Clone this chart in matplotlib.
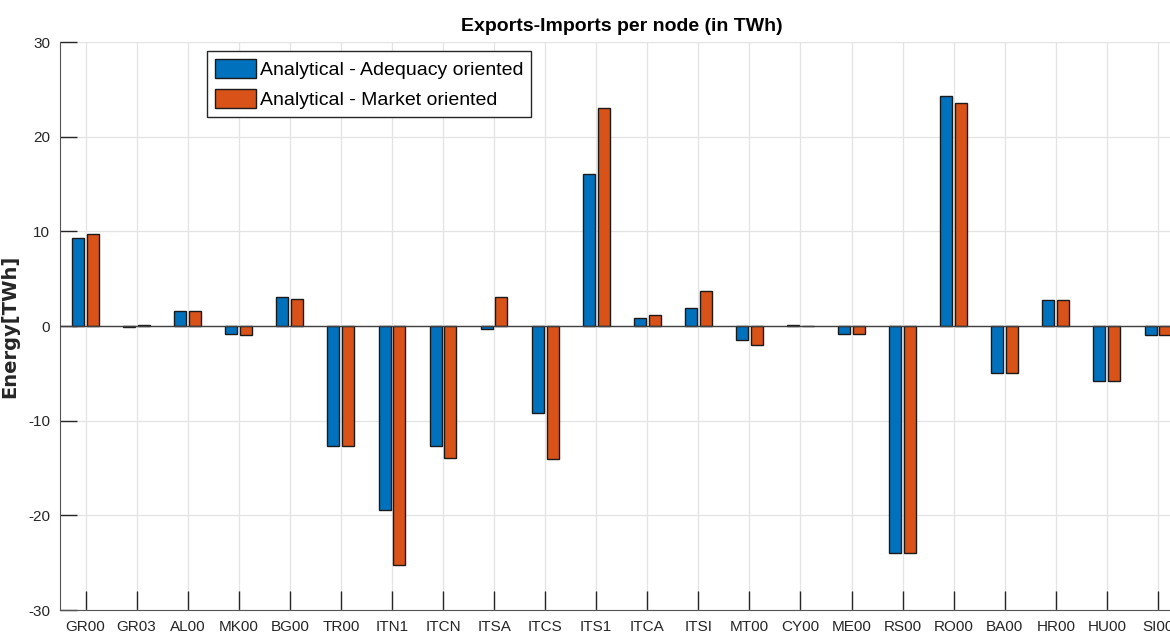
import numpy as np
import matplotlib.pyplot as plt

nodes = ["GR00", "GR03", "AL00", "MK00", "BG00", "TR00", "ITN1", "ITCN", "ITSA", "ITCS", "ITS1",
         "ITCA", "ITSI", "MT00", "CY00", "ME00", "RS00", "RO00", "BA00", "HR00", "HU00", "SI00"]
adequacy = [9.26, -0.1, 1.62, -0.88, 3.06, -12.67, -19.47, -12.67, -0.3, -9.2, 16.05,
            0.81, 1.9, -1.48, 0.15, -0.81, -23.93, 24.25, -4.96, 2.75, -5.8, -0.95]
market = [9.68, 0.1, 1.6, -0.9, 2.89, -12.67, -25.24, -13.94, 3.1, -14.04, 23.0,
          1.13, 3.66, -2.04, 0.05, -0.8, -23.93, 23.58, -4.96, 2.75, -5.8, -0.95]

plt.rcParams['axes.unicode_minus'] = False
sans = ['Liberation Sans', 'DejaVu Sans']
dark = '#262626'

fig = plt.figure(figsize=(11.7, 6.37), dpi=100)
# right edge of the axes runs past the picture, as in the reference
ax = fig.add_axes([60/1170, 1 - 610/637, 1123.5/1170, 568/637])

x = np.arange(1, len(nodes) + 1)
w = 0.235
ax.bar(x - 0.145, adequacy, w, color='#0072BD', edgecolor='#1a1a1a', linewidth=1,
       label="Analytical - Adequacy oriented", zorder=3)
ax.bar(x + 0.145, market, w, color='#D95319', edgecolor='#1a1a1a', linewidth=1,
       label="Analytical - Market oriented", zorder=3)
ax.axhline(0, color='#404040', linewidth=1, zorder=4)

ax.set_xlim(0.5, 22.5)
ax.set_ylim(-30, 30)
ax.set_yticks([-30, -20, -10, 0, 10, 20, 30])
ax.set_xticks(x)
ax.set_xticklabels(nodes)
for lab in ax.get_xticklabels() + ax.get_yticklabels():
    lab.set_family(sans)
    lab.set_fontsize(11)
    lab.set_color(dark)
ax.tick_params(direction='in', length=12, width=1, color=dark, pad=7)
ax.tick_params(axis='x', length=14)

ax.grid(True, color='#e3e3e3', linewidth=0.9, zorder=0)
ax.set_axisbelow(True)
ax.spines['top'].set_visible(False)
ax.spines['right'].set_visible(False)
ax.spines['left'].set_color('#555555')
ax.spines['bottom'].set_color('#555555')

ax.set_title("Exports-Imports per node (in TWh)", family=sans, fontweight='bold',
             fontsize=14, pad=8)
ax.set_ylabel("Energy[TWh]", family='DejaVu Sans', fontweight='bold', fontsize=14,
              color='#262626')
ax.yaxis.set_label_coords(-0.036, 0.5)

leg = ax.legend(loc='upper left', bbox_to_anchor=(147/1123.5, 1 - 9/568), prop={'family': sans, 'size': 14},
                fancybox=False, framealpha=1, edgecolor='#262626', handlelength=2.1,
                handleheight=1.13, handletextpad=0.2, borderpad=0.4, labelspacing=0.5,
                borderaxespad=0)
leg.get_frame().set_linewidth(1)

fig.savefig("out.png", dpi=100)
